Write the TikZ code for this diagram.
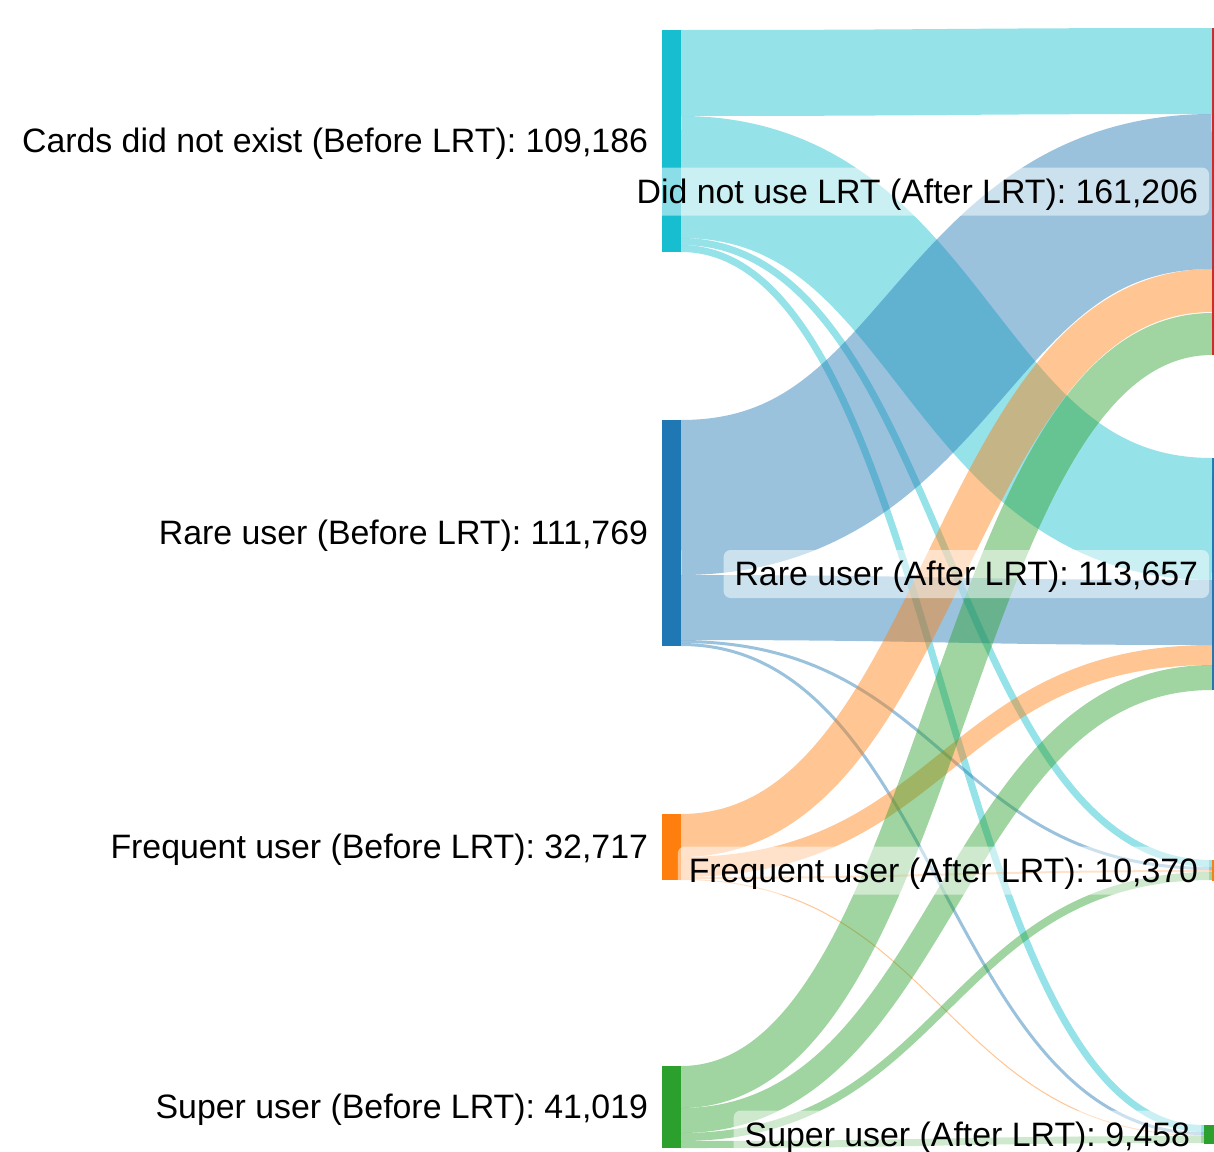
\documentclass[tikz,border=0pt]{standalone}
\usepackage{fontspec}
\setmainfont{Liberation Sans}
\usetikzlibrary{calc}
\definecolor{ccyan}{HTML}{17BECF}
\definecolor{cblue}{HTML}{1F77B4}
\definecolor{corange}{HTML}{FF7F0E}
\definecolor{cgreen}{HTML}{2CA02C}
\definecolor{cred}{HTML}{D62728}
\tikzset{
 bar/.style={rectangle, inner sep=0pt, outer sep=0pt, minimum width=19pt, anchor=north west, draw=none},
 lbl/.style={inner sep=0pt, outer sep=0pt, anchor=east, text height=23.7pt, text depth=0pt, font=\fontsize{33.85}{40}\selectfont},
 rlbl/.style={lbl, rounded corners=7pt, fill=white, fill opacity=0.5, text opacity=1, inner xsep=11pt, minimum height=48pt},
 flow/.style={draw opacity=0.45, line cap=butt},
}
% #1 colour, #2 source node, #3-#4 offsets in source, #5 target node, #6-#7 offsets in target
\newcommand\sklink[7]{%
 \path ($(#2.north east)+(0,{(#3+#4)/2})$) coordinate (s0)
       ($(#5.north west)+(0,{(#6+#7)/2})$) coordinate (t0)
       ($(s0)!0.5!(t0)$) coordinate (mid);
 \draw[flow, draw=#1, line width={(#4-#3)*1pt}] (s0) .. controls (mid |- s0) and (mid |- t0) .. (t0);}
\begin{document}
\begin{tikzpicture}[x=1pt,y=-1pt]
\useasboundingbox (0,0) rectangle (1214,1151);
\clip (0,0) rectangle (1214,1151);
% left nodes
\node[bar, fill=ccyan, minimum height=222pt] (cards) at (662,30) {};
\node[bar, fill=cblue, minimum height=226pt] (rare) at (662,420) {};
\node[bar, fill=corange, minimum height=66pt] (freq) at (662,814) {};
\node[bar, fill=cgreen, minimum height=82pt] (super) at (662,1066) {};
% right nodes
\node[bar, fill=cred, minimum height=327pt] (didnot) at (1212,28) {};
\node[bar, fill=cblue, minimum height=232pt] (rareA) at (1212,458) {};
\node[bar, fill=corange, minimum height=21pt] (freqA) at (1212,860) {};
\node[bar, fill=cgreen, minimum height=19pt] (superA) at (1204,1125) {};
% links from cards
\sklink{ccyan}{cards}{0}{86}{didnot}{0}{86}
\sklink{ccyan}{cards}{86}{208}{rareA}{0}{122}
\sklink{ccyan}{cards}{208}{215}{freqA}{0}{7}
\sklink{ccyan}{cards}{215}{222}{superA}{0}{7}
% links from rare
\sklink{cblue}{rare}{0}{155}{didnot}{86}{241}
\sklink{cblue}{rare}{155}{220}{rareA}{122}{187}
\sklink{cblue}{rare}{220}{223}{freqA}{7}{10}
\sklink{cblue}{rare}{223}{226}{superA}{7}{10}
% links from frequent
\sklink{corange}{freq}{0}{43}{didnot}{241}{284}
\sklink{corange}{freq}{43}{63}{rareA}{187}{207}
\sklink{corange}{freq}{63}{65}{freqA}{10}{12}
\sklink{corange}{freq}{65}{66}{superA}{10}{11}
% links from super
\sklink{cgreen}{super}{0}{42}{didnot}{285}{327}
\sklink{cgreen}{super}{42}{67}{rareA}{207}{232}
\sklink{cgreen}{super}{67}{75}{freqA}{12}{20}
\sklink{cgreen}{super}{75}{82}{superA}{11}{18}
% left labels
\node[lbl] (lcards) at ([xshift=-14pt]cards.west) {Cards did not exist (Before LRT): 109,186};
\node[lbl] (lrare) at ([xshift=-14pt]rare.west) {Rare user (Before LRT): 111,769};
\node[lbl] (lfreq) at ([xshift=-14pt]freq.west) {Frequent user (Before LRT): 32,717};
\node[lbl] (lsuper) at ([xshift=-14pt]super.west) {Super user (Before LRT): 41,019};
% right labels
\node[rlbl] (ldidnot) at ([xshift=-3pt]didnot.west) {Did not use LRT (After LRT): 161,206};
\node[rlbl] (lrareA) at ([xshift=-3pt]rareA.west) {Rare user (After LRT): 113,657};
\node[rlbl] (lfreqA) at ([xshift=-3pt]freqA.west) {Frequent user (After LRT): 10,370};
\node[rlbl] (lsuperA) at ([xshift=-3pt]superA.west) {Super user (After LRT): 9,458};
\end{tikzpicture}
\end{document}
